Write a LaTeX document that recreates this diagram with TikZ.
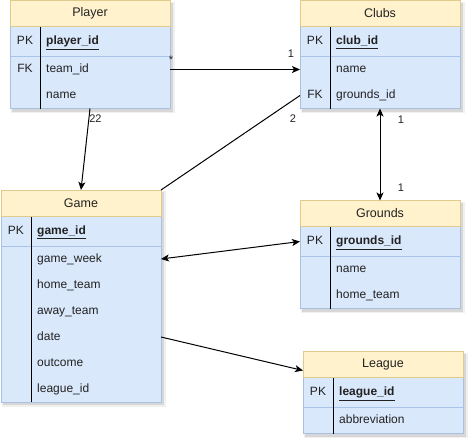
\documentclass[tikz,border=0pt]{standalone}
\usepackage{fontspec}
\setmainfont{Liberation Sans}
\usetikzlibrary{arrows.meta}

\definecolor{hdrfill}{HTML}{FFF2CC}
\definecolor{hdrline}{HTML}{E0CB8C}
\definecolor{bodyfill}{HTML}{DAE8FC}
\definecolor{bodyline}{HTML}{A9C0E0}
\definecolor{sepline}{HTML}{A9C4EB}
\definecolor{txt}{HTML}{222222}

\tikzset{
  tblframe/.style={anchor=north west, inner sep=0pt, outer sep=0pt},
  tblhead/.style={anchor=north west, inner sep=0pt, outer sep=0pt, draw=hdrline,
    fill=hdrfill, line width=0.5pt, text=txt, font=\fontsize{12.5}{15}\selectfont},
  rowbox/.style={anchor=north west, inner sep=0pt, outer sep=0pt},
  keytext/.style={inner sep=0pt, text=txt, font=\fontsize{12}{14}\selectfont,
    text height=0.905em, text depth=0.212em},
  fieldtext/.style={keytext, anchor=west},
  lbl/.style={inner sep=0pt, text=txt, font=\fontsize{11}{13}\selectfont},
  link/.style={line width=1pt, black},
  tip/.style={-{Stealth[length=8pt,width=7pt,inset=2pt]}},
  tips/.style={{Stealth[length=8pt,width=7pt,inset=2pt]}-{Stealth[length=8pt,width=7pt,inset=2pt]}},
}

% #1 name, #2 x, #3 y, #4 width, #5 title, #6 primary key field,
% #7 number of further rows, #8 further rows as key/field
\newcommand\ertable[8]{%
  \pgfmathsetmacro\tblh{56+26*#7}%
  % soft shadow
  \fill[black,opacity=0.06] (#2+1,#3+1) rectangle (#2+#4+4.5,#3+\tblh+4.5);
  \fill[black,opacity=0.10] (#2+2,#3+2) rectangle (#2+#4+3,#3+\tblh+3);
  % body
  \node[tblframe, minimum width=#4pt, minimum height=\tblh pt] (#1) at (#2,#3) {};
  \fill[bodyfill] (#2,#3+26) rectangle (#2+#4,#3+\tblh);
  \draw[sepline, line width=0.6pt] (#2,#3+56) -- (#2+#4,#3+56);
  \draw[bodyline, line width=0.5pt] (#2,#3+26) rectangle (#2+#4,#3+\tblh);
  \draw[black, line width=1pt] (#2+30,#3+26) -- (#2+30,#3+\tblh);
  % header
  \node[tblhead, minimum width=#4pt, minimum height=26pt] (#1-h) at (#2,#3) {#5};
  % primary key row
  \node[rowbox, minimum width=#4pt, minimum height=30pt] (#1-r1) at (#2,#3+26) {};
  \node[keytext] (#1-k1) at (#2+15,#3+41) {PK};
  \node[fieldtext] (#1-f1) at (#2+36,#3+41) {\underline{\textbf{#6}}};
  % further rows
  \foreach \fkey/\fname [count=\i, evaluate=\i as \j using int(\i+1)] in {#8} {
    \node[rowbox, minimum width=#4pt, minimum height=26pt] (#1-r\j) at (#2,#3+30+26*\i) {};
    \node[keytext] (#1-k\j) at (#2+15,#3+43+26*\i) {\fkey};
    \node[fieldtext] (#1-f\j) at (#2+36,#3+43+26*\i) {\fname};
  }
}

\begin{document}
\begin{tikzpicture}[x=1pt,y=-1pt]
  \useasboundingbox (0,0) rectangle (475,447);
  \fill[white] (0,0) rectangle (475,447);

  \ertable{player}{10}{0.5}{160}{Player}{player\_id}{2}{FK/team\_id, /name}
  \ertable{clubs}{300}{0.5}{160}{Clubs}{club\_id}{2}{/name, FK/grounds\_id}
  \ertable{game}{1}{190}{160}{Game}{game\_id}{6}{/game\_week, /home\_team, /away\_team, /date, /outcome, /league\_id}
  \ertable{grounds}{300}{200.5}{160}{Grounds}{grounds\_id}{2}{/name, /home\_team}
  \ertable{league}{303}{351.5}{160}{League}{league\_id}{1}{/abbreviation}

  \coordinate (league-in) at ([yshift=-6pt]league-h.west);

  % relationships
  \draw[link, tip] (player-r2.east) -- (clubs-r2.west);
  \draw[link, tip] (player.south) -- (game.north);
  \draw[link] (clubs-r3.west) -- (game.north east);
  \draw[link, tips] (clubs.south) -- (grounds.north);
  \draw[link, tips] (game-r2.east) -- (grounds-r1.west);
  \draw[link, tip] (game-r5.east) -- (league-in);

  % multiplicities
  \node[lbl] (m1) at (171,60) {*};
  \node[lbl] (m2) at (291,54) {1};
  \node[lbl] (m3) at (95.5,119) {22};
  \node[lbl] (m4) at (293,119) {2};
  \node[lbl] (m5) at (401,120) {1};
  \node[lbl] (m6) at (401,188) {1};
\end{tikzpicture}
\end{document}
